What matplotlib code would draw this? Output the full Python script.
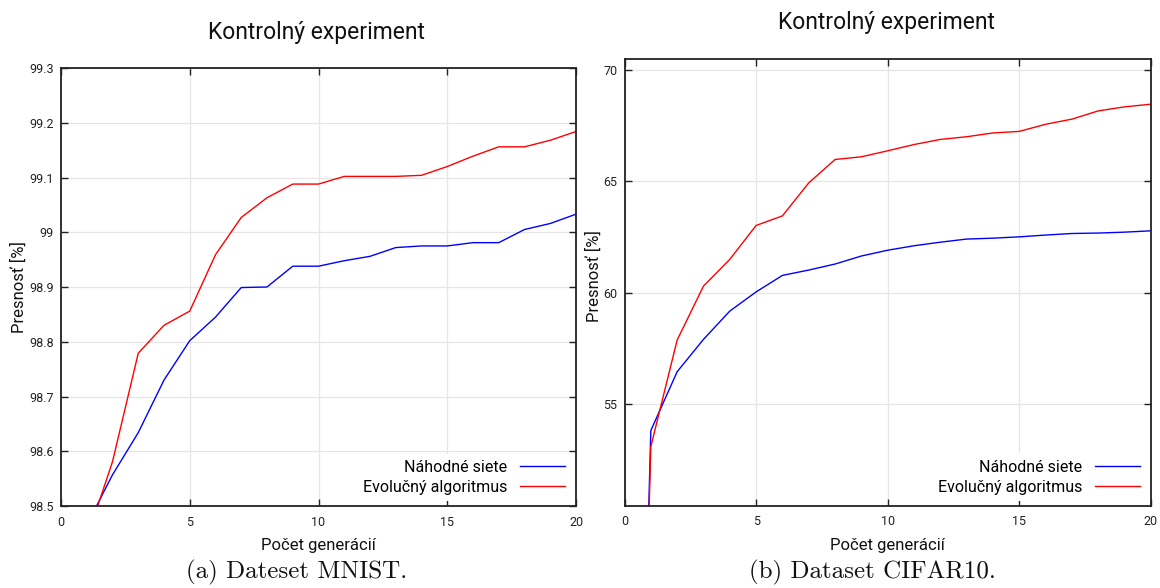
import matplotlib
matplotlib.use("Agg")
import matplotlib.pyplot as plt
from matplotlib.ticker import FuncFormatter

plt.rcParams['font.family'] = ['Roboto', 'DejaVu Sans']

# ---- data ----
generations = list(range(1, 21))
mnist_random = [98.465, 98.557, 98.634, 98.730, 98.802, 98.845, 98.899, 98.900, 98.938, 98.938,
                98.948, 98.956, 98.972, 98.975, 98.975, 98.981, 98.981, 99.005, 99.016, 99.033]
mnist_evo = [98.440, 98.581, 98.779, 98.830, 98.856, 98.959, 99.027, 99.063, 99.088, 99.088,
             99.102, 99.102, 99.102, 99.104, 99.120, 99.139, 99.156, 99.156, 99.168, 99.184]

cifar_generations = list(range(0, 21))
cifar_random = [10.0, 53.82, 56.46, 57.91, 59.18, 60.04, 60.78, 61.02, 61.29, 61.65, 61.91,
                62.11, 62.27, 62.41, 62.45, 62.51, 62.59, 62.66, 62.68, 62.72, 62.78]
cifar_evo = [10.0, 53.10, 57.88, 60.30, 61.50, 63.02, 63.45, 64.93, 65.98, 66.10, 66.37,
             66.65, 66.88, 67.00, 67.17, 67.24, 67.56, 67.79, 68.16, 68.34, 68.46]

title = "Kontrolný experiment"
xlabel = "Počet generácií"
ylabel = "Presnosť [%]"
label_random = "Náhodné siete"
label_evo = "Evolučný algoritmus"
caption_a = "(a) Dateset MNIST."
caption_b = "(b) Dataset CIFAR10."

mnist_yticks = [98.5, 98.6, 98.7, 98.8, 98.9, 99.0, 99.1, 99.2, 99.3]
cifar_yticks = [55, 60, 65, 70]
xticks = [0, 5, 10, 15, 20]

W, H = 1160, 588
fig = plt.figure(figsize=(W / 100, H / 100), dpi=100)


def px_axes(x0, y0, x1, y1):
    return fig.add_axes([x0 / W, 1 - y1 / H, (x1 - x0) / W, (y1 - y0) / H])


def style(ax):
    ax.grid(True, color='#e6e6e6', lw=0.9)
    ax.set_axisbelow(True)
    ax.tick_params(direction='in', top=True, right=True, length=5, width=1,
                   labelsize=9, colors='#222222', pad=5)
    ax.tick_params(axis='x', pad=7)
    for s in ax.spines.values():
        s.set_linewidth(1.3)
        s.set_color('#222222')
    ax.set_xlim(0, 20)
    ax.set_xticks(xticks)
    ax.set_xlabel(xlabel, fontsize=12, color='#111111')
    ax.set_ylabel(ylabel, fontsize=12, color='#111111')
    leg = ax.legend(loc='lower right', markerfirst=False, fontsize=11.5,
                    frameon=True, framealpha=1, edgecolor='none', fancybox=False,
                    handlelength=2.8, borderaxespad=0.3, labelspacing=0.3,
                    handletextpad=0.8)
    leg.get_frame().set_linewidth(0)


ax1 = px_axes(61, 68, 576, 506)
ax1.plot(generations, mnist_random, color='#0000ff', lw=1.0, label=label_random)
ax1.plot(generations, mnist_evo, color='#ff0000', lw=1.0, label=label_evo)
ax1.set_ylim(98.5, 99.3)
ax1.set_yticks(mnist_yticks)
ax1.yaxis.set_major_formatter(FuncFormatter(lambda v, p: f"{v:g}"))
style(ax1)
ax1.yaxis.set_label_coords(-0.066, 0.5)
ax1.xaxis.set_label_coords(0.5, -0.072)

ax2 = px_axes(624.5, 58.7, 1151, 505.7)
ax2.plot(cifar_generations, cifar_random, color='#0000ff', lw=1.0, label=label_random)
ax2.plot(cifar_generations, cifar_evo, color='#ff0000', lw=1.0, label=label_evo)
ax2.set_ylim(50.45, 70.5)
ax2.set_yticks(cifar_yticks)
style(ax2)
ax2.yaxis.set_label_coords(-0.043, 0.514)
ax2.xaxis.set_label_coords(0.5, -0.072)

fig.text(316 / W, 1 - 33 / H, title, ha='center', va='center', fontsize=16.5, color='#111111')
fig.text(886 / W, 1 - 22 / H, title, ha='center', va='center', fontsize=16.5, color='#111111')

fig.text(297 / W, 1 - 572 / H, caption_a, ha='center', va='center', fontsize=18,
         family='cmr10', color='#111111')
fig.text(872 / W, 1 - 572 / H, caption_b, ha='center', va='center', fontsize=18,
         family='cmr10', color='#111111')

fig.savefig('out.png', dpi=100)
